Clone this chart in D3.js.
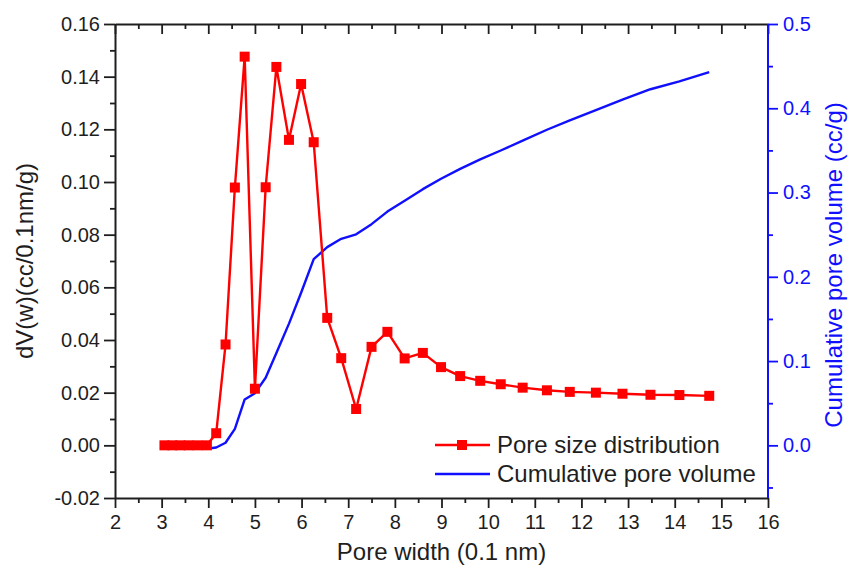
<!DOCTYPE html>
<html>
<head>
<meta charset="utf-8">
<script src="https://cdn.jsdelivr.net/npm/d3@7"></script>
<style>
  html, body { margin: 0; padding: 0; background: #fff; }
  svg text { font-family: "Liberation Sans", Arial, Helvetica, sans-serif; }
</style>
</head>
<body>
<svg id="chart" width="850" height="576"></svg>
<script>
// Pore width (0.1 nm) shared by both series
const poreWidth = [3.06, 3.23, 3.40, 3.58, 3.77, 3.97, 4.17, 4.37, 4.57, 4.78,
  5.00, 5.23, 5.46, 5.73, 5.99, 6.26, 6.55, 6.85, 7.17, 7.50,
  7.84, 8.21, 8.60, 8.99, 9.40, 9.83, 10.27, 10.74, 11.26, 11.75,
  12.31, 12.88, 13.48, 14.10, 14.74];

// Pore size distribution dV(w) (cc/0.1nm/g), left axis
const poreSizeDist = [0, 0, 0, 0, 0, 0, 0.0046, 0.0383, 0.0979, 0.1476,
  0.0215, 0.0980, 0.1437, 0.1160, 0.1372, 0.1151, 0.0484, 0.0331, 0.0138, 0.0374,
  0.0431, 0.0330, 0.0351, 0.0297, 0.0263, 0.0245, 0.0232, 0.0219, 0.0209, 0.0203,
  0.0200, 0.0196, 0.0192, 0.0191, 0.0188];

// Cumulative pore volume (cc/g), right axis
const cumVolume = [-0.004, -0.004, -0.004, -0.004, -0.004, -0.004, -0.0026, 0.0031, 0.0196, 0.0544,
  0.0619, 0.0802, 0.1095, 0.1444, 0.1810, 0.2209, 0.2352, 0.2451, 0.2504, 0.2625,
  0.2774, 0.2903, 0.3040, 0.3164, 0.3280, 0.3394, 0.3499, 0.3616, 0.3745, 0.3855,
  0.3979, 0.4102, 0.4226, 0.4320, 0.4430];

// Tick values and labels
const xTicks = [2, 3, 4, 5, 6, 7, 8, 9, 10, 11, 12, 13, 14, 15, 16];
const yLeftTicks = [-0.02, 0.00, 0.02, 0.04, 0.06, 0.08, 0.10, 0.12, 0.14, 0.16];
const yLeftLabels = ["-0.02", "0.00", "0.02", "0.04", "0.06", "0.08", "0.10", "0.12", "0.14", "0.16"];
const yRightTicks = [0.0, 0.1, 0.2, 0.3, 0.4, 0.5];
const yRightLabels = ["0.0", "0.1", "0.2", "0.3", "0.4", "0.5"];

const seriesNames = ["Pore size distribution", "Cumulative pore volume"];
const xTitle = "Pore width (0.1 nm)";
const yLeftTitle = "dV(w)(cc/0.1nm/g)";
const yRightTitle = "Cumulative pore volume (cc/g)";

const RED = "#ff0000";
const BLUE = "#1010ff";
const INK = "#1e1e1e";

const svg = d3.select("#chart");
const m = { left: 115, right: 768, top: 24, bottom: 498 };

const x = d3.scaleLinear().domain([2, 16]).range([m.left, m.right]);
const yL = d3.scaleLinear().domain([-0.02, 0.16]).range([m.bottom, m.top]);
const yR = d3.scaleLinear().domain([-0.0625, 0.5]).range([m.bottom, m.top]);

const minorX = d3.range(2.5, 16, 1);
const minorYL = d3.range(-0.01, 0.16, 0.02);
const minorYR = d3.range(-0.05, 0.5, 0.1);

function styleAxis(g, color, width) {
  g.select(".domain").attr("stroke", color).attr("stroke-width", width);
  g.selectAll(".tick line").attr("stroke", color).attr("stroke-width", 1.8);
  g.selectAll(".tick text").attr("fill", color).attr("font-size", 20);
}
function minorTicks(g, color) {
  g.select(".domain").remove();
  g.selectAll(".tick line").attr("stroke", color).attr("stroke-width", 1.8);
}

// Bottom axis
svg.append("g").attr("transform", `translate(0,${m.bottom})`)
  .call(d3.axisBottom(x).tickValues(minorX).tickSize(5).tickFormat(""))
  .call(minorTicks, INK);
const gx = svg.append("g").attr("transform", `translate(0,${m.bottom})`)
  .call(d3.axisBottom(x).tickValues(xTicks).tickSize(10).tickSizeOuter(0).tickPadding(7).tickFormat(d3.format("d")));
styleAxis(gx, INK, 2);

// Top axis, ticks pointing inward
svg.append("g").attr("transform", `translate(0,${m.top})`)
  .call(d3.axisBottom(x).tickValues(minorX).tickSize(5).tickFormat(""))
  .call(minorTicks, INK);
const gt = svg.append("g").attr("transform", `translate(0,${m.top})`)
  .call(d3.axisBottom(x).tickValues(xTicks).tickSize(10).tickSizeOuter(0).tickFormat(""));
styleAxis(gt, INK, 2);

// Left axis
svg.append("g").attr("transform", `translate(${m.left},0)`)
  .call(d3.axisLeft(yL).tickValues(minorYL).tickSize(5).tickFormat(""))
  .call(minorTicks, INK);
const gl = svg.append("g").attr("transform", `translate(${m.left},0)`)
  .call(d3.axisLeft(yL).tickValues(yLeftTicks).tickSize(11).tickSizeOuter(0).tickPadding(4)
    .tickFormat((d, i) => yLeftLabels[i]));
styleAxis(gl, INK, 2);

// Right axis (blue)
svg.append("g").attr("transform", `translate(${m.right},0)`)
  .call(d3.axisRight(yR).tickValues(minorYR).tickSize(5).tickFormat(""))
  .call(minorTicks, BLUE);
const gr = svg.append("g").attr("transform", `translate(${m.right},0)`)
  .call(d3.axisRight(yR).tickValues(yRightTicks).tickSize(10).tickSizeOuter(0).tickPadding(5)
    .tickFormat((d, i) => yRightLabels[i]));
styleAxis(gr, BLUE, 2);
gr.select(".domain").attr("d", `M0,${m.top}V${m.bottom}`);

// Axis titles
svg.append("text").attr("x", (m.left + m.right) / 2).attr("y", 560)
  .attr("text-anchor", "middle").attr("font-size", 24).attr("fill", INK).text(xTitle);
svg.append("text").attr("transform", `translate(33,${(m.top + m.bottom) / 2}) rotate(-90)`)
  .attr("text-anchor", "middle").attr("font-size", 24).attr("fill", INK).text(yLeftTitle);
svg.append("text").attr("transform", `translate(842,${(m.top + m.bottom) / 2 + 4}) rotate(-90)`)
  .attr("text-anchor", "middle").attr("font-size", 24).attr("fill", BLUE).text(yRightTitle);

const idx = d3.range(poreWidth.length);

// Cumulative pore volume curve
svg.append("path")
  .attr("fill", "none").attr("stroke", BLUE).attr("stroke-width", 2.4)
  .attr("stroke-linejoin", "round")
  .attr("d", d3.line().x(i => x(poreWidth[i])).y(i => yR(cumVolume[i]))(idx));

// Pore size distribution line + square markers
svg.append("path")
  .attr("fill", "none").attr("stroke", RED).attr("stroke-width", 2.4)
  .attr("stroke-linejoin", "round")
  .attr("d", d3.line().x(i => x(poreWidth[i])).y(i => yL(poreSizeDist[i]))(idx));

const sq = 10;
svg.append("g").selectAll("rect").data(idx).join("rect")
  .attr("x", i => x(poreWidth[i]) - sq / 2)
  .attr("y", i => yL(poreSizeDist[i]) - sq / 2)
  .attr("width", sq).attr("height", sq)
  .attr("fill", RED);

// Legend
const lg = svg.append("g");
lg.append("line").attr("x1", 435).attr("x2", 490).attr("y1", 445).attr("y2", 445)
  .attr("stroke", RED).attr("stroke-width", 2.4);
lg.append("rect").attr("x", 462 - sq / 2).attr("y", 445 - sq / 2).attr("width", sq).attr("height", sq).attr("fill", RED);
lg.append("text").attr("x", 497).attr("y", 445).attr("dy", "0.35em")
  .attr("font-size", 24).attr("fill", INK).text(seriesNames[0]);
lg.append("line").attr("x1", 435).attr("x2", 490).attr("y1", 474).attr("y2", 474)
  .attr("stroke", BLUE).attr("stroke-width", 2.4);
lg.append("text").attr("x", 497).attr("y", 474).attr("dy", "0.35em")
  .attr("font-size", 24).attr("fill", INK).text(seriesNames[1]);
</script>
</body>
</html>
